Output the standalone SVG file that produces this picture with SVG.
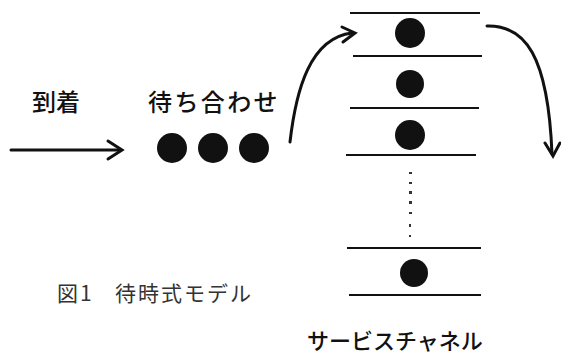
<svg xmlns="http://www.w3.org/2000/svg" width="561" height="356" viewBox="0 0 561 356">
  <style>
    .lbl { font-family: "Noto Sans CJK JP", "Noto Sans", sans-serif; fill: #111; font-weight: 500; }
    .cap { font-family: "Noto Sans CJK JP", "Noto Sans", sans-serif; fill: #333; }
    .bar { stroke: #111; stroke-width: 2; fill: none; }
    .flow { stroke: #111; stroke-width: 3; fill: none; stroke-linecap: round; }
    .ball { fill: #111; }
  </style>
  <rect width="561" height="356" fill="#fff"/>

  <g id="arrival">
    <text class="lbl" x="32" y="111" font-size="24">到着</text>
  </g>

  <g id="queue">
    <text class="lbl" x="148" y="111" font-size="24" letter-spacing="2.4">待ち合わせ</text>
    <circle class="ball" cx="172" cy="148" r="15"/>
    <circle class="ball" cx="213" cy="148" r="15"/>
    <circle class="ball" cx="254" cy="148" r="15"/>
  </g>

  <g id="service-channels">
    <line class="bar" x1="350" y1="13" x2="480" y2="13"/>
    <circle class="ball" cx="410" cy="33" r="15"/>
    <line class="bar" x1="353" y1="56" x2="482" y2="56"/>
    <circle class="ball" cx="410" cy="84" r="14"/>
    <line class="bar" x1="350" y1="108" x2="479" y2="108"/>
    <circle class="ball" cx="410" cy="135" r="15"/>
    <line class="bar" x1="346" y1="155" x2="476" y2="155"/>
    <g fill="#333">
      <rect x="409" y="172" width="3" height="2"/>
      <rect x="409" y="182" width="3" height="2"/>
      <rect x="409" y="191" width="3" height="3"/>
      <rect x="409" y="201" width="3" height="3"/>
      <rect x="409" y="212" width="3" height="2"/>
      <rect x="409" y="224" width="2" height="3"/>
      <rect x="409" y="235" width="2" height="2"/>
    </g>
    <line class="bar" x1="347" y1="248" x2="481" y2="248"/>
    <circle class="ball" cx="414" cy="273" r="14"/>
    <line class="bar" x1="349" y1="295" x2="481" y2="295"/>
    <text class="lbl" x="307" y="349" font-size="22">サービスチャネル</text>
  </g>

  <g id="connectors">
    <line class="flow" x1="11" y1="150" x2="120" y2="150"/>
    <polyline class="flow" points="108,141 122,150 108,159"/>
    <path class="flow" d="M290,142 C296,90 310,38 352,33"/>
    <polyline class="flow" points="342,27 355,33 343,42"/>
    <path class="flow" d="M487,26 C525,25 548,55 552,154"/>
    <polyline class="flow" points="545,143 553,156 560,143"/>
  </g>

  <g id="caption">
    <text class="cap" x="57" y="301" font-size="21" letter-spacing="2">図1</text>
    <text class="cap" x="115" y="301" font-size="21" letter-spacing="2">待時式モデル</text>
  </g>
</svg>
